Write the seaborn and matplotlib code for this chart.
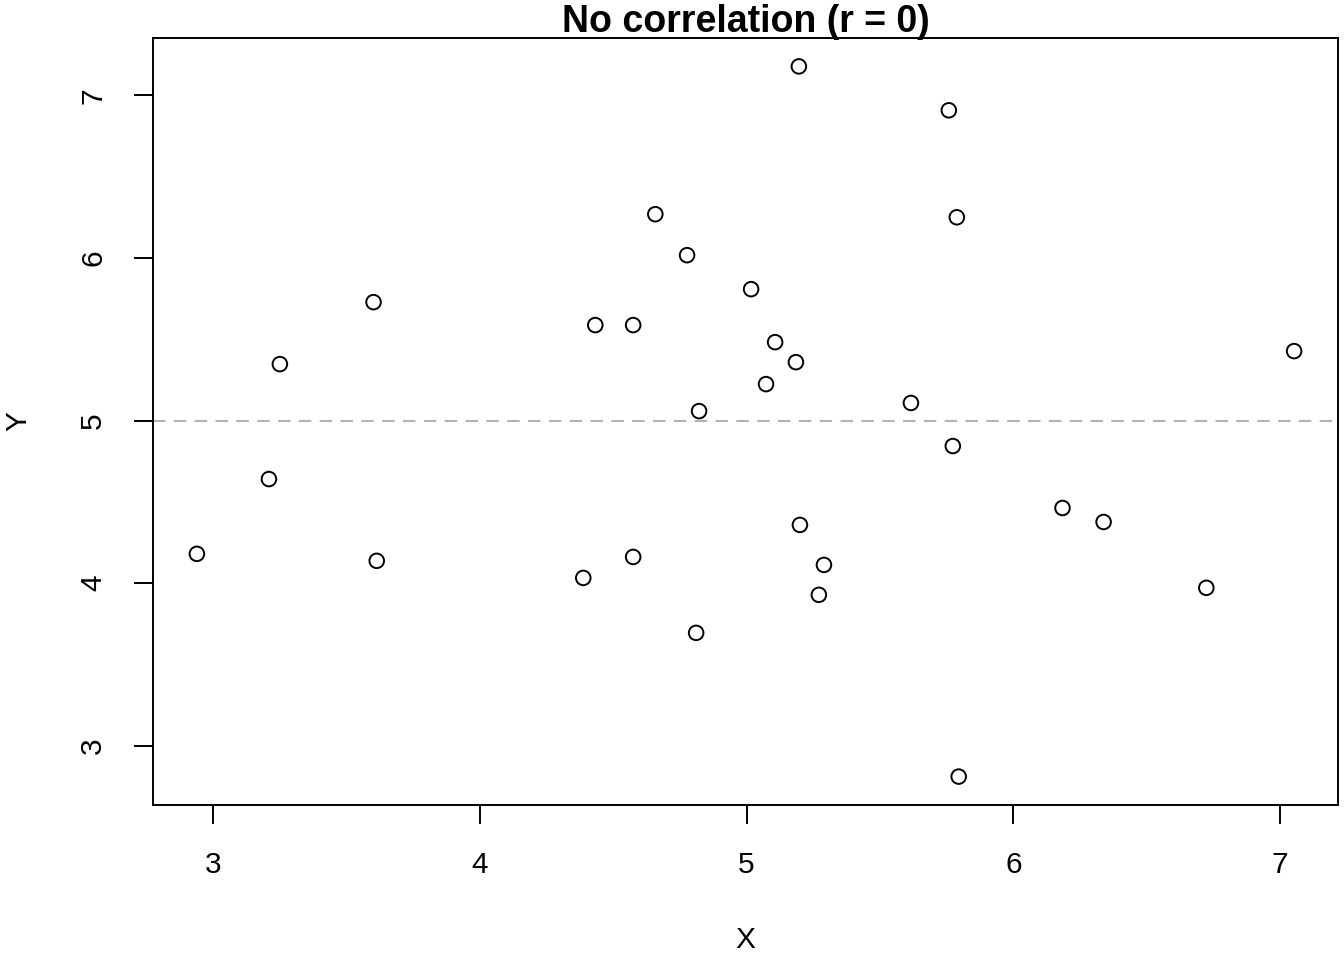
import pandas as pd
import seaborn as sns
import matplotlib
matplotlib.use('Agg')
import matplotlib.pyplot as plt

# values
x_vals = [2.940, 3.210, 3.251, 3.602, 3.614, 4.388, 4.433, 4.575, 4.575, 4.658,
          4.777, 4.811, 4.822, 5.017, 5.073, 5.107, 5.185, 5.196, 5.200, 5.271,
          5.290, 5.616, 5.758, 5.773, 5.788, 5.795, 6.184, 6.338, 6.723, 7.052]
y_vals = [4.180, 4.640, 5.347, 5.728, 4.137, 4.032, 5.587, 5.587, 4.161, 6.269,
          6.017, 3.694, 5.058, 5.808, 5.224, 5.482, 5.359, 7.178, 4.358, 3.928,
          4.112, 5.108, 6.908, 4.843, 6.250, 2.810, 4.462, 4.376, 3.971, 5.427]
x_ticks = [3, 4, 5, 6, 7]
y_ticks = [3, 4, 5, 6, 7]
ref_line = 5

data = pd.DataFrame({'X': x_vals, 'Y': y_vals})

sns.set_style('white')
plt.rcParams['font.family'] = ['Liberation Sans', 'DejaVu Sans']
plt.rcParams['text.color'] = 'black'
plt.rcParams['axes.labelcolor'] = 'black'
plt.rcParams['xtick.color'] = 'black'
plt.rcParams['ytick.color'] = 'black'

fig = plt.figure(figsize=(13.44, 9.6), dpi=100)
ax = fig.add_axes([153 / 1344, 1 - 805 / 960, 1185 / 1344, 767 / 960])

sns.scatterplot(x='X', y='Y', data=data, ax=ax, marker='o', s=110,
                facecolor='none', edgecolor='black', linewidth=1.4, zorder=3)
ax.axhline(ref_line, color='#b3b3b3', linestyle=(0, (6, 4)), linewidth=1.5, zorder=1)

# R-like 4% padding around the data range
xr = max(x_vals) - min(x_vals)
yr = max(y_vals) - min(y_vals)
ax.set_xlim(min(x_vals) - 0.04 * xr, max(x_vals) + 0.04 * xr)
ax.set_ylim(min(y_vals) - 0.04 * yr, max(y_vals) + 0.04 * yr)

ax.set_xticks(x_ticks)
ax.set_yticks(y_ticks)
ax.tick_params(axis='both', direction='out', length=14, width=1.4,
               color='black', labelcolor='black', labelsize=21.5, pad=19,
               left=True, bottom=True)
for lab in ax.get_yticklabels():
    lab.set_rotation(90)
    lab.set_va('center')

for s in ax.spines.values():
    s.set_visible(True)
    s.set_color('black')
    s.set_linewidth(1.4)

ax.set_title('No correlation (r = 0)', fontsize=27, fontweight='bold', pad=4,
             color='black')
ax.set_xlabel('X', fontsize=21.5)
ax.set_ylabel('Y', fontsize=21.5)
ax.xaxis.set_label_coords(0.5, -135 / 767)
ax.xaxis.label.set_va('center')
ax.yaxis.set_label_coords(-135 / 1185, 0.5)
ax.yaxis.label.set_va('center')

plt.savefig('out.png', dpi=100)
